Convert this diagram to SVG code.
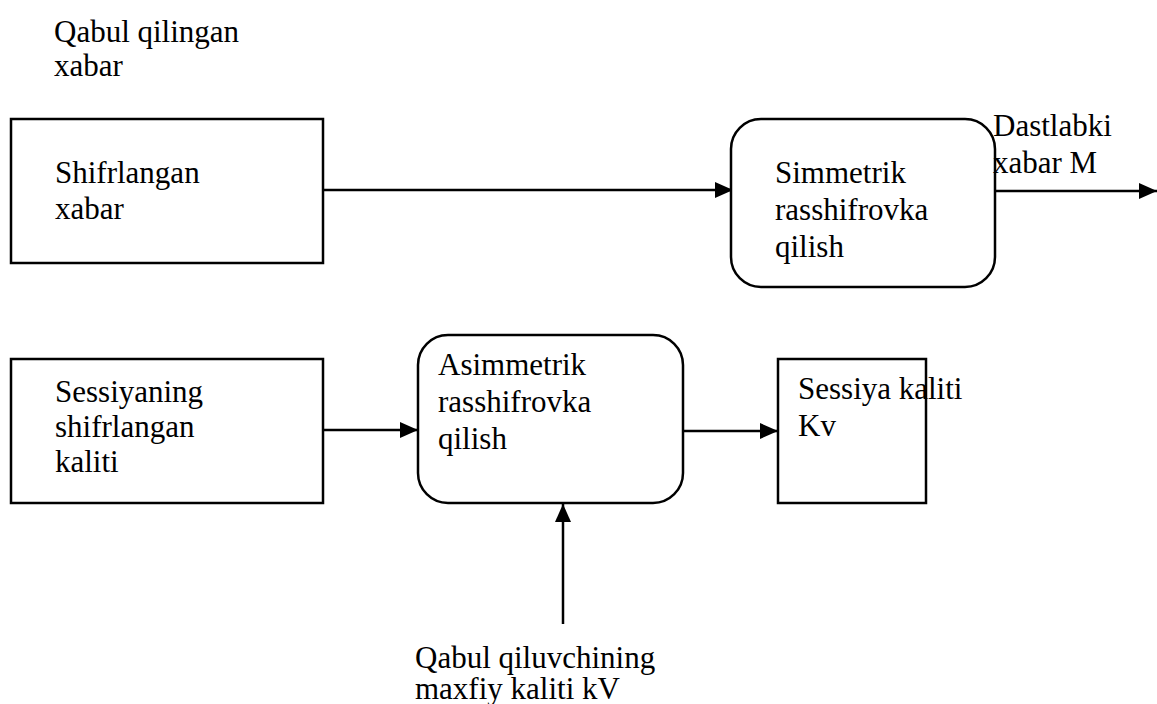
<svg xmlns="http://www.w3.org/2000/svg" width="1157" height="704" viewBox="0 0 1157 704">
<style>
text{font-family:"Liberation Serif","Times New Roman",serif;font-size:31px;fill:#000}
.box{fill:#fff;stroke:#000;stroke-width:2.5}
.ln{stroke:#000;stroke-width:2.5;fill:none}
</style>
<defs>
<marker id="ah" markerUnits="userSpaceOnUse" markerWidth="18" markerHeight="16" refX="18" refY="8" orient="auto">
<path d="M0,0 L18,8 L0,16 Z" fill="#000"/>
</marker>
</defs>
<rect width="1157" height="704" fill="#fff"/>
<g id="connectors">
<line class="ln" x1="323" y1="190" x2="733" y2="190" marker-end="url(#ah)"/>
<line class="ln" x1="995" y1="191" x2="1157" y2="191" marker-end="url(#ah)"/>
<line class="ln" x1="323" y1="430" x2="418" y2="430" marker-end="url(#ah)"/>
<line class="ln" x1="683" y1="431" x2="778" y2="431" marker-end="url(#ah)"/>
<line class="ln" x1="563" y1="624" x2="563" y2="504" marker-end="url(#ah)"/>
</g>
<g id="label-qabul">
<text x="54" y="42">Qabul qilingan</text>
<text x="54" y="76">xabar</text>
</g>
<g id="node-shifrlangan">
<rect class="box" x="11" y="119" width="312" height="144"/>
<text x="55" y="183">Shifrlangan</text>
<text x="55" y="219">xabar</text>
</g>
<g id="node-simmetrik">
<rect class="box" x="731" y="119" width="264" height="168" rx="30" ry="30"/>
<text x="775" y="183">Simmetrik</text>
<text x="775" y="220">rasshifrovka</text>
<text x="775" y="257">qilish</text>
</g>
<g id="label-dastlabki">
<text x="993" y="136">Dastlabki</text>
<text x="993" y="173">xabar M</text>
</g>
<g id="node-sessiyaning">
<rect class="box" x="11" y="359" width="312" height="144"/>
<text x="55" y="402">Sessiyaning</text>
<text x="55" y="437">shifrlangan</text>
<text x="55" y="472">kaliti</text>
</g>
<g id="node-asimmetrik">
<rect class="box" x="418" y="335" width="265" height="168" rx="30" ry="30"/>
<text x="438" y="375">Asimmetrik</text>
<text x="438" y="412">rasshifrovka</text>
<text x="438" y="449">qilish</text>
</g>
<g id="node-sessiya">
<rect class="box" x="778" y="359" width="148" height="144"/>
<text x="798" y="399">Sessiya kaliti</text>
<text x="798" y="436">Kv</text>
</g>
<g id="label-qiluvchi">
<text x="415" y="668">Qabul qiluvchining</text>
<text x="415" y="699">maxfiy kaliti kV</text>
</g>
</svg>
